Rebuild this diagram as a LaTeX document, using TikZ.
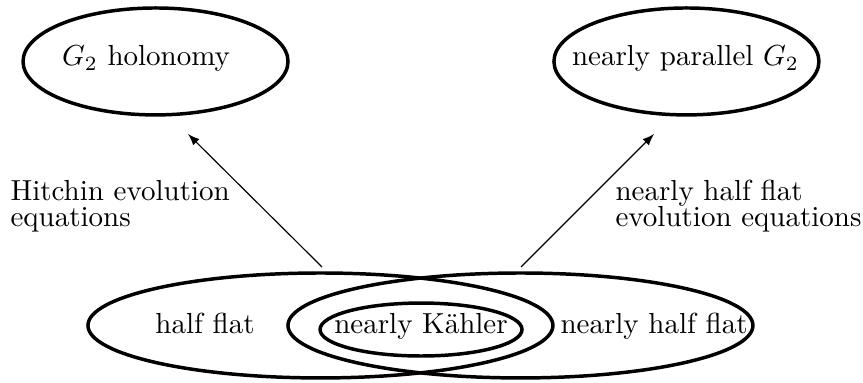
\documentclass[tikz,border=0pt]{standalone}
\usepackage{amsmath,amssymb}
\usepackage{tikz}
\tikzset{region/.style = {line width=1.2pt},
  flow/.style = {-latex, thin}}

\begin{document}
\begin{tikzpicture}
  \useasboundingbox (0,0) rectangle (10.46,4.642);
  \draw[region] (1.885,3.897) ellipse (1.606cm and 0.648cm);
  \draw[region] (8.320,3.897) ellipse (1.606cm and 0.648cm);
  \draw[region] (3.884,0.697) ellipse (2.818cm and 0.636cm);
  \draw[region] (6.308,0.697) ellipse (2.818cm and 0.636cm);
  \draw[region] (5.103,0.648) ellipse (1.224cm and 0.321cm);
  \node[anchor=base] (G) at (1.770,3.842) {$G_2$ holonomy};
  \node[anchor=base] (NP) at (8.308,3.842) {nearly parallel $G_2$};
  \node[anchor=base] (HF) at (2.485,0.594) {half flat};
  \node[anchor=base] (NK) at (5.103,0.594) {nearly K\"ahler};
  \node[anchor=base] (NHF) at (7.927,0.594) {nearly half flat};
  \coordinate (a) at (3.903,1.406);
  \coordinate (A) at (2.279,3.018);
  \coordinate (b) at (6.315,1.406);
  \coordinate (B) at (7.927,3.018);
  \path[flow] (a) edge (A);
  \path[flow] (b) edge (B);
  \node[anchor=base west, align=left, inner sep=0pt] (hitchin) at (0.121,1.891)
    {Hitchin evolution\\[-3pt] equations};
  \node[anchor=base west, align=left, inner sep=0pt] (nhfeq) at (7.454,1.891)
    {nearly half flat\\[-3pt] evolution equations};
\end{tikzpicture}
\end{document}
